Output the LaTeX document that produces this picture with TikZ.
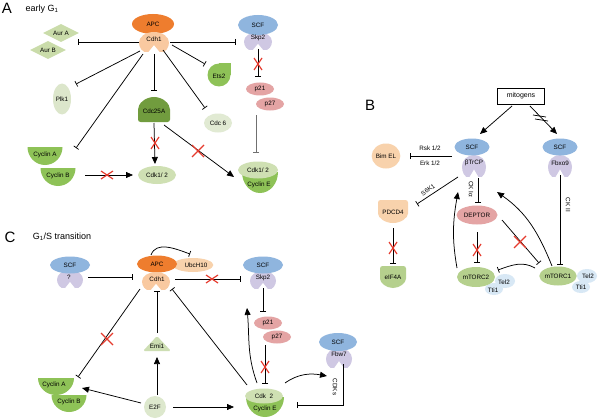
\documentclass[tikz,border=0pt]{standalone}
\usepackage{fontspec}
\setmainfont{Liberation Sans}
\usetikzlibrary{arrows.meta,shapes.geometric}
\definecolor{apc}{HTML}{EE7D2E}
\definecolor{cdh}{HTML}{F9C9A0}
\definecolor{scf}{HTML}{8FB5DE}
\definecolor{lav}{HTML}{CFC8E3}
\definecolor{aur}{HTML}{CADCAA}
\definecolor{plkc}{HTML}{DCE6CB}
\definecolor{cyc}{HTML}{8EC257}
\definecolor{cdcd}{HTML}{719C3E}
\definecolor{cdkp}{HTML}{CFE0B3}
\definecolor{etsc}{HTML}{8EC257}
\definecolor{cdcsix}{HTML}{E1EAD3}
\definecolor{pnk}{HTML}{E4A4A4}
\definecolor{pch}{HTML}{F8D2AC}
\definecolor{mtc}{HTML}{B5D08D}
\definecolor{telc}{HTML}{D8E8F5}
\definecolor{emic}{HTML}{CDDEB3}
\definecolor{etwof}{HTML}{DDE8CD}
\definecolor{xred}{HTML}{E63B2E}
\definecolor{gry}{HTML}{707070}
\newcommand\notchshape[5]{\begin{scope}[shift={(#1,-#2)},xscale=#3,yscale=#4]\fill[#5] (0,-0.3) -- (-0.38,-1) to[out=200,in=-90] (-1,-0.05) to[out=90,in=180] (0,1) to[out=0,in=90] (1,-0.05) to[out=-90,in=-20] (0.38,-1) -- cycle;\end{scope}}
\newcommand\bowlshape[5]{\fill[#5] ({#1-#3},-#2) -- ({#1+#3},-#2) arc[start angle=0,end angle=-180,x radius=#3,y radius=#4] -- cycle;}
\newcommand\shieldshape[7]{\begin{scope}[shift={(#1,-#2)},yscale=#7]\fill[#6,rounded corners=2.5pt] (-#3,0) -- (-#3,#4) -- (#3,#4) -- (#3,0) arc[start angle=0,end angle=-180,x radius=#3,y radius=#5] -- cycle;\end{scope}}
\newcommand\redx[4]{\draw[xr] ({#1-#3},{-#2-#4}) -- ({#1+#3},{-#2+#4}) ({#1-#3},{-#2+#4}) -- ({#1+#3},{-#2-#4});}
\begin{document}
\begin{tikzpicture}[x=1pt,y=1pt,
  t/.style={font=\fontsize{6.3}{7.5}\selectfont, inner sep=0pt, align=center},
  eb/.style={t, shape=ellipse},
  big/.style={font=\fontsize{15}{15}\selectfont, inner sep=0pt},
  ttl/.style={font=\fontsize{9}{10}\selectfont, inner sep=0pt},
  inh/.style={line width=0.75pt, -{Bar[width=6pt,line width=0.75pt]}},
  act/.style={line width=0.75pt, -{Triangle[length=7pt,width=6pt]}},
  xr/.style={draw=xred, line width=1.2pt},
]
\fill[white] (0,0) rectangle (600,-420);
\useasboundingbox (0,0) rectangle (600,-420);

% ---------- background shapes ----------
\notchshape{258}{41}{14}{9}{lav}
\notchshape{474}{166}{12}{11}{lav}
\notchshape{560}{166}{12}{11}{lav}
\notchshape{70}{279}{13}{9}{lav}
\notchshape{263}{280}{13}{9}{lav}
\notchshape{339}{358}{13}{10}{lav}
\bowlshape{45}{147}{17.5}{18}{cyc}
\bowlshape{58}{168}{17.5}{18}{cyc}
\bowlshape{260}{172}{18}{21}{cyc}
\bowlshape{56}{378}{18}{17}{cyc}
\bowlshape{69}{395}{17.5}{17}{cyc}
\bowlshape{265}{397}{19}{20}{cyc}
\shieldshape{393}{211}{15}{11}{12}{pch}{1}
\shieldshape{393}{276}{13}{10}{12}{mtc}{1}
\shieldshape{154}{112}{16}{10}{15}{cdcd}{-1}
\fill[etsc] (219,-75) circle[radius=11.5];
\fill[etsc] (219,-75) rectangle (230.5,-63.5);
\fill[emic, rounded corners=1.5pt] (143,-351) -- (171,-351) -- (157,-336) -- cycle;
\fill[telc] (505,-281) ellipse[x radius=10,y radius=7];
\fill[telc] (494,-289) ellipse[x radius=9,y radius=6];
\fill[telc] (587,-276) ellipse[x radius=10,y radius=7];
\fill[telc] (581,-287) ellipse[x radius=9,y radius=6];

% ---------- Panel A ----------
\node[big] (labA) at (7,-8) {A};
\node[ttl] (ttlA) at (42,-9) {early G\textsubscript{1}};
\node[eb, fill=apc, minimum width=42pt, minimum height=20pt] (apcA) at (153,-24) {APC};
\node[eb, fill=scf, minimum width=40pt, minimum height=20pt] (scfA) at (258,-25) {SCF};
\node[t, diamond, shape aspect=2, fill=aur, minimum width=36pt, minimum height=18pt] (aurA) at (61,-33) {Aur A};
\node[t, diamond, shape aspect=2, fill=aur, minimum width=36pt, minimum height=18pt] (aurB) at (48,-50) {Aur B};
\node[eb, fill=plkc, minimum width=18pt, minimum height=31pt] (plk) at (62,-99) {Plk1};
\node[eb, fill=cdkp, minimum width=38pt, minimum height=18pt] (cdk12) at (157,-175) {Cdk1/ 2};
\node[eb, fill=cdcsix, minimum width=28pt, minimum height=19pt] (cdc6) at (218,-123) {Cdc 6};
\node[eb, fill=pnk, minimum width=28pt, minimum height=13pt] (p21A) at (260,-89) {p21};
\node[eb, fill=pnk, minimum width=28pt, minimum height=13pt] (p27A) at (270,-104) {p27};
\node[eb, fill=cdkp, minimum width=40pt, minimum height=17pt] (cdkEA) at (258,-170) {Cdk1/ 2};
\notchshape{154}{42}{15}{10}{cdh}
\node[t] (cdhA) at (154,-39) {Cdh1};
\node[t] (skpA) at (258,-38) {Skp2};
\node[t] (cdc25) at (154,-111) {Cdc25A};
\node[t] (ets) at (219,-76) {Ets2};
\node[t] (cycA) at (45,-155) {Cyclin A};
\node[t] (cycB) at (58,-176) {Cyclin B};
\node[t] (cyeA) at (259,-185) {Cyclin E};

\draw[inh] ([shift={(-15,-3)}]cdhA.center) -- ([shift={(17,-9)}]aurA.center);
\draw[inh] ([shift={(16,-3)}]cdhA.center) -- ([shift={(-22,-17)}]scfA.center);
\draw[inh] ([shift={(-14,-12)}]cdhA.center) -- ([shift={(14,15)}]plk.center);
\draw[inh] ([shift={(-11,-15)}]cdhA.center) -- ([shift={(31,7)}]cycA.center);
\draw[inh] ([shift={(0,-15)}]cdhA.center) -- ([shift={(0,20)}]cdc25.center);
\draw[act] ([shift={(0,-12)}]cdc25.center) -- ([shift={(-2,11)}]cdk12.center);
\draw[act] ([shift={(10,-14)}]cdc25.center) -- ([shift={(-24,-7)}]cdkEA.center);
\draw[act] ([shift={(27,1)}]cycB.center) -- ([shift={(-24,0)}]cdk12.center);
\draw[inh] ([shift={(18,-6)}]cdhA.center) -- ([shift={(-14,12)}]ets.center);
\draw[inh] ([shift={(9,-11)}]cdhA.center) -- ([shift={(-13,15)}]cdc6.center);
\draw[inh] ([shift={(0,-11)}]skpA.center) -- ([shift={(-2,12)}]p21A.center);
\draw[inh, draw=gry] ([shift={(-14,-11)}]p27A.center) -- ([shift={(-2,17)}]cdkEA.center);
\redx{155}{143}{4}{6}
\redx{198}{151}{6}{6}
\redx{107}{175}{6}{4}
\redx{258}{64}{4}{6}

% ---------- Panel B ----------
\node[big] (labB) at (370,-105) {B};
\node[t, draw, line width=0.6pt, minimum width=47pt, minimum height=16pt, font=\fontsize{7}{8}\selectfont] (mit) at (521,-96) {mitogens};
\node[eb, fill=scf, minimum width=35pt, minimum height=17pt] (scfB1) at (472,-147) {SCF};
\node[eb, fill=scf, minimum width=35pt, minimum height=17pt] (scfB2) at (560,-147) {SCF};
\node[t] (tr) at (474,-163) {βTrCP};
\node[t] (fb) at (560,-163) {Fbxo9};
\node[eb, fill=pch, minimum width=25pt, minimum height=25pt] (bim) at (386,-156) {Bim EL};
\node[eb, fill=pnk, minimum width=41pt, minimum height=19pt] (dep) at (477,-215) {DEPTOR};
\node[eb, fill=mtc, minimum width=38pt, minimum height=20pt] (mt2) at (476,-277) {mTORC2};
\node[eb, fill=mtc, minimum width=37pt, minimum height=19pt] (mt1) at (558,-276) {mTORC1};
\node[t] (pdcd) at (393,-212) {PDCD4};
\node[t] (eif) at (393,-277) {eIF4A};
\node[t] (tel2a) at (504,-282) {Tel2};
\node[t] (tti1a) at (493,-290) {Tti1};
\node[t] (tel2b) at (588,-276) {Tel2};
\node[t] (tti1b) at (581,-287) {Tti1};
\node[t] (rsk) at (430,-148) {Rsk 1/2};
\node[t] (erk) at (430,-163) {Erk 1/2};
\node[t, rotate=34] (s6k) at (428,-190) {S6K1};
\node[t, rotate=-90] (cki) at (471,-189) {CK Iα};
\node[t, rotate=-90] (ckii) at (568,-205) {CK II};

\draw[act] ([shift={(-9,-10)}]mit.center) -- ([shift={(8,13)}]scfB1.center);
\draw[act] ([shift={(9,-10)}]mit.center) -- ([shift={(-3,13)}]scfB2.center);
\draw[line width=0.75pt] (533,-115) -- (546,-117) (535,-119) -- (548,-121);
\draw[inh] ([shift={(-20,-9)}]scfB1.center) -- ([shift={(24,0)}]bim.center);
\draw[inh] ([shift={(-16,-14)}]tr.center) -- ([shift={(24,8)}]pdcd.center);
\draw[inh] ([shift={(4,-15)}]tr.center) -- ([shift={(1,12)}]dep.center);
\draw[inh] ([shift={(0,-17)}]dep.center) -- ([shift={(1,14)}]mt2.center);
\draw[inh] ([shift={(25,-5)}]dep.center) -- ([shift={(-19,13)}]mt1.center);
\draw[act] ([shift={(-19,9)}]mt2.center) to[out=100,in=-100] ([shift={(-16,-29)}]tr.center);
\draw[act] ([shift={(-6,10)}]mt1.center) to[out=112,in=-35] ([shift={(23,-29)}]tr.center);
\draw[inh] ([shift={(-23,8)}]mt1.center) to[out=150,in=20] ([shift={(22,7)}]mt2.center);
\draw[inh] ([shift={(0,-12)}]fb.center) -- ([shift={(2,11)}]mt1.center);
\draw[inh] ([shift={(0,-16)}]pdcd.center) -- ([shift={(0,13)}]eif.center);
\redx{477}{250}{4}{6}
\redx{520}{242}{6}{6}
\redx{393}{248}{4}{6}

% ---------- Panel C ----------
\node[big] (labC) at (10,-237) {C};
\node[ttl] (ttlC) at (62,-237) {G\textsubscript{1}/S transition};
\node[eb, fill=pch, minimum width=40pt, minimum height=14pt] (ubc) at (193,-265) {\hspace*{6pt}UbcH10};
\node[eb, fill=scf, minimum width=40pt, minimum height=17pt] (scf0) at (70,-265) {SCF};
\node[eb, fill=apc, minimum width=40pt, minimum height=17pt] (apcC) at (157,-264) {APC};
\node[eb, fill=scf, minimum width=40pt, minimum height=17pt] (scfC) at (263,-265) {SCF};
\node[eb, fill=pnk, minimum width=28pt, minimum height=13pt] (p21C) at (268,-323) {p21};
\node[eb, fill=pnk, minimum width=28pt, minimum height=13pt] (p27C) at (277,-337) {p27};
\node[eb, fill=etwof, minimum width=22pt, minimum height=22pt] (e2f) at (155,-407) {E2F};
\node[eb, fill=cdkp, minimum width=38pt, minimum height=15pt] (cdk2) at (264,-396) {Cdk\ \ 2};
\node[eb, fill=scf, minimum width=38pt, minimum height=18pt] (scfF) at (338,-342) {SCF};
\notchshape{156}{281}{14}{9}{cdh}
\node[t] (q) at (69,-277) {?};
\node[t] (cdhC) at (157,-279) {Cdh1};
\node[t] (skpC) at (263,-278) {Skp2};
\node[t] (emi) at (157,-346) {Emi1};
\node[t] (cycAC) at (54,-385) {Cyclin A};
\node[t] (cycBC) at (69,-402) {Cyclin B};
\node[t] (cyeC) at (265,-409) {Cyclin E};
\node[t] (fbw) at (339,-354) {Fbw7};
\node[t, rotate=-90] (cdks) at (335,-387) {CDKs};

\draw[inh] ([shift={(-6,9)}]apcC.center) to[out=70,in=160] ([shift={(-3,11)}]ubc.center);
\draw[inh] ([shift={(19,0)}]q.center) -- ([shift={(-24,2)}]cdhC.center);
\draw[inh] ([shift={(18,0)}]cdhC.center) -- ([shift={(-22,-1)}]skpC.center);
\draw[inh] ([shift={(0,-10)}]skpC.center) -- ([shift={(-5,11)}]p21C.center);
\draw[inh] ([shift={(-12,-8)}]p27C.center) -- ([shift={(1,12)}]cdk2.center);
\draw[act] ([shift={(-7,13)}]cdk2.center) to[out=110,in=-85] ([shift={(-16,-30)}]skpC.center);
\draw[inh] ([shift={(-17,11)}]cdk2.center) -- ([shift={(15,-10)}]cdhC.center);
\draw[inh] ([shift={(-17,-10)}]cdhC.center) -- ([shift={(24,8)}]cycAC.center);
\draw[inh] ([shift={(0,13)}]emi.center) -- ([shift={(0,-12)}]cdhC.center);
\draw[act] ([shift={(2,12)}]e2f.center) -- ([shift={(0,-11)}]emi.center);
\draw[act] ([shift={(-14,4)}]e2f.center) -- ([shift={(28,-3)}]cycAC.center);
\draw[act] ([shift={(18,0)}]e2f.center) -- ([shift={(-30,-11)}]cdk2.center);
\draw[act] ([shift={(21,13)}]cdk2.center) to[out=35,in=170] ([shift={(-11,-34)}]scfF.center);
\draw[inh] ([shift={(4,-10)}]fbw.center) |- ([shift={(33,-9)}]cdk2.center);
\redx{212}{279}{6}{4}
\redx{265}{367}{4}{6}
\redx{107}{339}{6}{6}
\end{tikzpicture}
\end{document}
